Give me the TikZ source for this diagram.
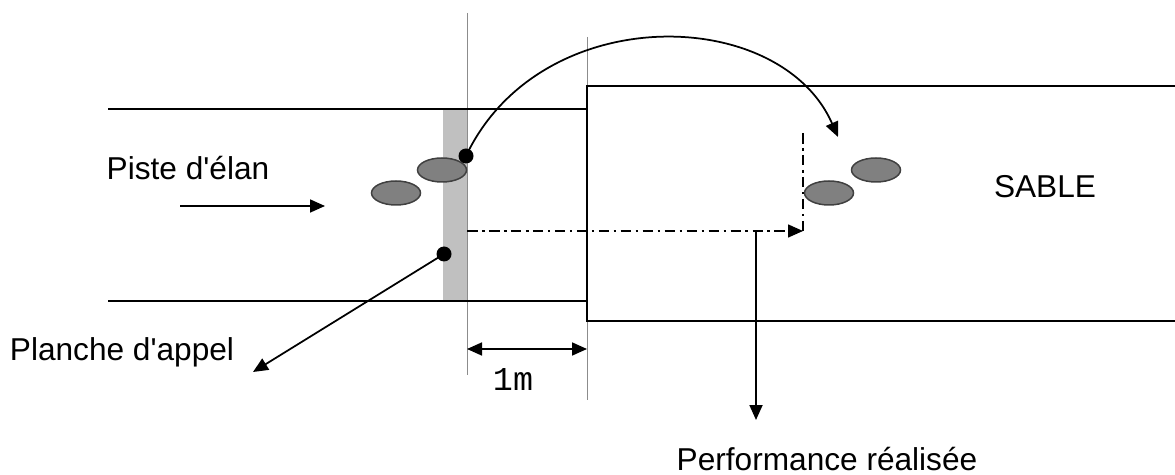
\documentclass[tikz,border=0pt]{standalone}
\usepackage{fontspec}
\setmainfont{Liberation Sans}
\setmonofont{Liberation Mono}
\usetikzlibrary{arrows.meta,shapes.geometric}
\definecolor{boardgrey}{RGB}{192,192,192}
\definecolor{footgrey}{RGB}{128,128,128}
\definecolor{guidegrey}{RGB}{140,140,140}

\begin{document}
\begin{tikzpicture}[x=0.02cm,y=-0.02cm,
  lbl/.style={font=\fontsize{18}{21}\selectfont,inner sep=0pt},
  edge/.style={line width=0.035cm},
  guide/.style={guidegrey,line width=0.02cm},
  tip/.style={-{Triangle[length=0.3cm,width=0.26cm]}},
  foot/.style={ellipse,draw=black!75,fill=footgrey,line width=0.03cm,
    minimum width=0.98cm,minimum height=0.48cm,inner sep=0pt},
  dot/.style={circle,fill,inner sep=0pt,minimum size=0.3cm},
  dashdot/.style={line width=0.03cm,dash pattern=on 6pt off 2.5pt on 1.5pt off 2.5pt}]
  \useasboundingbox (0,0) rectangle (1175,475);
  % planche d'appel
  \fill[boardgrey] (443,109) rectangle (467,301);
  \draw[guide] (467,13) -- (467,375);
  \draw[guide] (587,37) -- (587,400);
  % piste d'elan
  \draw[edge] (108,109) -- (587,109);
  \draw[edge] (108,301) -- (587,301);
  % bac a sable
  \draw[edge] (1175,86) -- (587,86) -- (587,321) -- (1175,321);
  % empreintes
  \node[foot] (f1) at (396,193) {};
  \node[foot] (f2) at (442,170) {};
  \node[foot] (f3) at (829,193) {};
  \node[foot] (f4) at (876,170) {};
  \node[dot] (takeoff) at (466,156) {};
  \node[dot] (board) at (444,254) {};
  % saut
  \coordinate (landing) at (838,137);
  \draw[edge,tip] (takeoff.center) .. controls (540,0) and (780,5) .. (landing);
  % mesure
  \coordinate (mstart) at (467,231);
  \coordinate (mend) at (803,231);
  \coordinate (mtop) at (803,133);
  \draw[dashdot] (mtop) -- (mend);
  \draw[dashdot,tip] (mstart) -- (mend);
  \coordinate (perftop) at (756,231);
  \coordinate (perfbot) at (756,420);
  \draw[edge,tip] (perftop) -- (perfbot);
  % 1m
  \coordinate (ma) at (467,349);
  \coordinate (mb) at (587,349);
  \draw[edge,{Triangle[length=0.3cm,width=0.26cm]}-{Triangle[length=0.3cm,width=0.26cm]}] (ma) -- (mb);
  % elan
  \coordinate (runa) at (180,206);
  \coordinate (runb) at (325,206);
  \draw[edge,tip] (runa) -- (runb);
  \coordinate (boardlbl) at (253,372);
  \draw[edge,tip] (board.center) -- (boardlbl);
  % textes
  \node[lbl] (piste) at (188,168) {Piste d\textquotesingle élan};
  \node[lbl] (planche) at (122,352) {Planche d\textquotesingle appel};
  \node[lbl] (sable) at (1045,187) {SABLE};
  \node[lbl,anchor=base] (perf) at (827,470) {Performance réalisée};
  \node[lbl,font=\fontsize{19}{22}\ttfamily] (metre) at (513,380) {1m};
\end{tikzpicture}
\end{document}
